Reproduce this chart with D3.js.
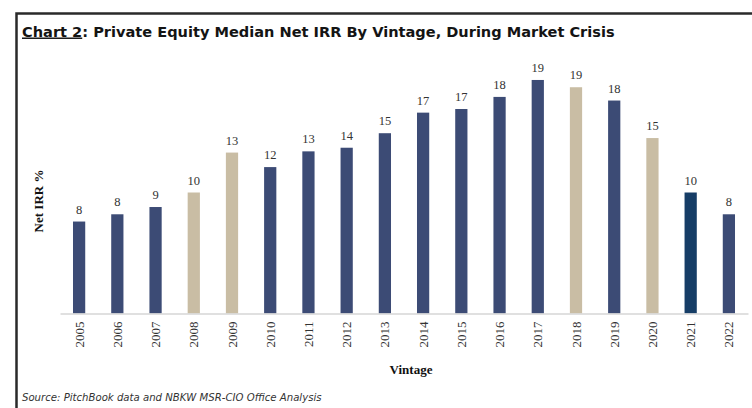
<!DOCTYPE html>
<html>
<head>
<meta charset="utf-8">
<script src="https://cdn.jsdelivr.net/npm/d3@7"></script>
<style>
    body { margin: 0; background: #fff; }
    svg { display: block; }
</style>
</head>
<body>
<div id="chart"></div>
<script>
// data
const years = ['2005', '2006', '2007', '2008', '2009', '2010', '2011', '2012', '2013',
    '2014', '2015', '2016', '2017', '2018', '2019', '2020', '2021', '2022'];
const netIrr = [7.6, 8.2, 8.8, 10.0, 13.3, 12.1, 13.4, 13.7, 14.9,
    16.6, 16.9, 17.9, 19.3, 18.7, 17.6, 14.5, 10.0, 8.2];
const crisisYears = ['2008', '2009', '2018', '2020'];
const latestYear = '2021';

const titleLead = 'Chart 2';
const titleRest = ': Private Equity Median Net IRR By Vintage, During Market Crisis';
const yLabel = 'Net IRR %';
const xLabel = 'Vintage';
const sourceNote = 'Source: PitchBook data and NBKW MSR-CIO Office Analysis';

const width = 752;
const height = 408;
const baseY = 313.5;

const svg = d3.select('#chart')
    .append('svg')
    .attr('width', width)
    .attr('height', height);

// frame (top and left rule)
svg.append('path')
    .attr('d', `M16.5,${height} V13.5 H${width}`)
    .attr('fill', 'none')
    .attr('stroke', '#2a2a2a')
    .attr('stroke-width', 2.5);

// title
const title = svg.append('text')
    .attr('x', 22)
    .attr('y', 36.5)
    .attr('font-family', 'DejaVu Sans, Verdana, sans-serif')
    .attr('font-weight', 'bold')
    .attr('font-size', 14)
    .attr('fill', '#141414');
title.append('tspan')
    .attr('text-decoration', 'underline')
    .text(titleLead);
title.append('tspan').text(titleRest);
// fit title width to the reference (ends near x=615)
const tw = title.node().getComputedTextLength();
title.attr('font-size', 14 * 593 / tw);

const x = d3.scaleBand()
    .domain(years)
    .range([60, 748])
    .paddingInner(0.68)
    .paddingOuter(0.34);

const y = d3.scaleLinear()
    .domain([0, 21])
    .range([baseY, baseY - 21 * 12.1]);

const rows = years.map((yr, i) => ({ year: yr, v: netIrr[i] }));

const color = d => d.year === latestYear ? '#163d66'
    : crisisYears.includes(d.year) ? '#c9bda4' : '#3c4b75';

svg.append('g')
    .selectAll('rect')
    .data(rows)
    .join('rect')
    .attr('x', d => x(d.year))
    .attr('y', d => y(d.v))
    .attr('width', x.bandwidth())
    .attr('height', d => y(0) - y(d.v))
    .attr('fill', color);

// value labels
svg.append('g')
    .selectAll('text')
    .data(rows)
    .join('text')
    .attr('x', d => x(d.year) + x.bandwidth() / 2)
    .attr('y', d => y(d.v) - 8)
    .attr('text-anchor', 'middle')
    .attr('font-family', 'Liberation Serif, Times New Roman, serif')
    .attr('font-size', 12.5)
    .attr('fill', '#333')
    .text(d => Math.round(d.v));

// x axis
const axisX = svg.append('g')
    .attr('transform', `translate(0, ${baseY})`)
    .call(d3.axisBottom(x).tickSize(0).tickSizeOuter(0));
axisX.select('.domain')
    .attr('stroke', '#d6d6d6')
    .attr('stroke-width', 1.5);
axisX.selectAll('.tick text')
    .attr('font-family', 'Liberation Serif, Times New Roman, serif')
    .attr('font-size', 13)
    .attr('fill', '#333')
    .attr('text-anchor', 'end')
    .attr('transform', 'translate(0, 8) rotate(-90)')
    .attr('x', 0)
    .attr('y', 0)
    .attr('dy', '0.35em');

// axis titles
svg.append('text')
    .attr('transform', 'translate(43, 201) rotate(-90)')
    .attr('text-anchor', 'middle')
    .attr('font-family', 'Liberation Serif, Times New Roman, serif')
    .attr('font-weight', 'bold')
    .attr('font-size', 13)
    .attr('fill', '#111')
    .text(yLabel);

svg.append('text')
    .attr('x', 411)
    .attr('y', 374)
    .attr('text-anchor', 'middle')
    .attr('font-family', 'Liberation Serif, Times New Roman, serif')
    .attr('font-weight', 'bold')
    .attr('font-size', 13)
    .attr('fill', '#111')
    .text(xLabel);

// source note
const note = svg.append('text')
    .attr('x', 22)
    .attr('y', 401)
    .attr('font-family', 'DejaVu Sans, Verdana, sans-serif')
    .attr('font-style', 'italic')
    .attr('font-size', 11)
    .attr('fill', '#333')
    .text(sourceNote);
const nw = note.node().getComputedTextLength();
note.attr('font-size', 11 * 300 / nw);
</script>
</body>
</html>
